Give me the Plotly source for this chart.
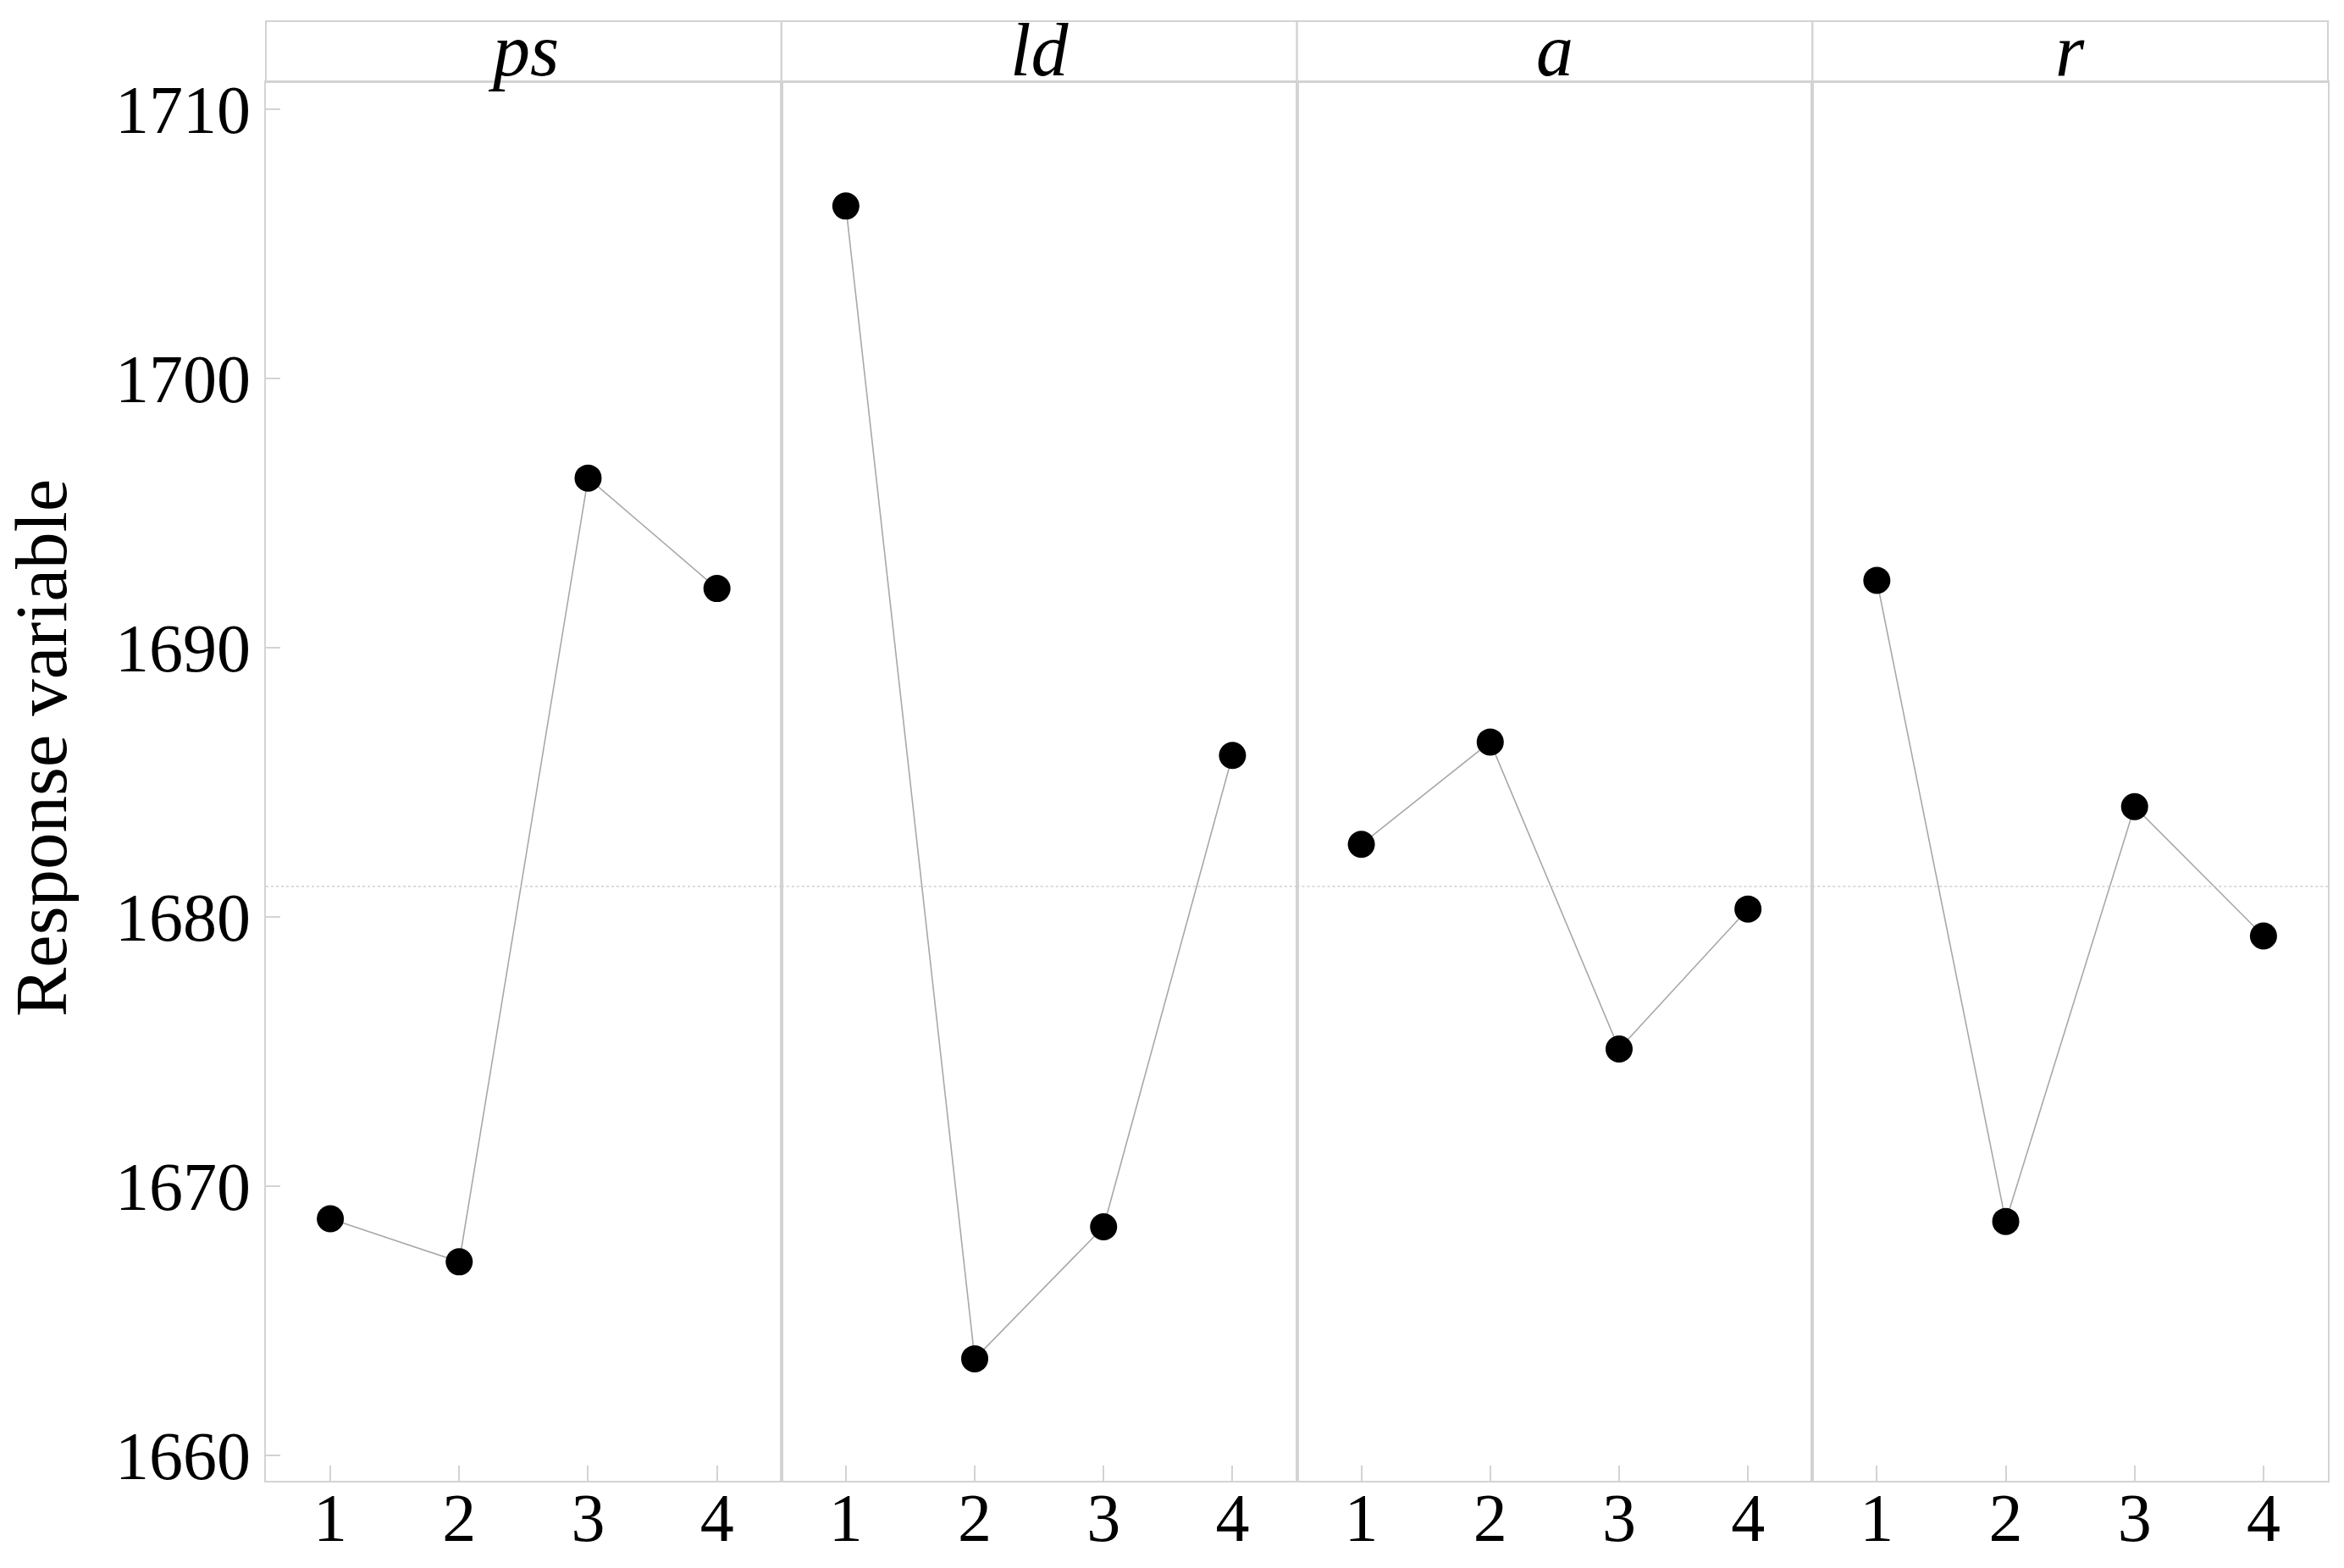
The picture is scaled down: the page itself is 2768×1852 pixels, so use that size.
import plotly.graph_objects as go
from plotly.subplots import make_subplots

factors = ["ps", "ld", "a", "r"]
levels = [1, 2, 3, 4]
ps_vals = [1668.8, 1667.2, 1696.3, 1692.2]
ld_vals = [1706.4, 1663.6, 1668.5, 1686.0]
a_vals = [1682.7, 1686.5, 1675.1, 1680.3]
r_vals = [1692.5, 1668.7, 1684.1, 1679.3]
series = [ps_vals, ld_vals, a_vals, r_vals]
y_ticks = [1660, 1670, 1680, 1690, 1700, 1710]

all_vals = [v for s in series for v in s]
grand_mean = sum(all_vals) / len(all_vals)

W, H = 2768, 1852
ML, MR, MT, MB = 314, 19, 25, 103
plot_h = H - MT - MB
strip_h = 72
ytop = (plot_h - strip_h) / plot_h

FONT = "Liberation Serif"
FS = 80
frame = "#d3d3d3"

fig = make_subplots(rows=1, cols=4, shared_yaxes=True, horizontal_spacing=0)

for i, vals in enumerate(series):
    fig.add_trace(
        go.Scatter(
            x=levels, y=vals, mode="lines+markers",
            line=dict(color="#a8a8a8", width=1.6),
            marker=dict(color="black", size=32),
            showlegend=False,
        ),
        row=1, col=i + 1,
    )
    fig.update_xaxes(
        range=[0.5, 4.5], tickvals=levels, ticktext=[str(v) for v in levels],
        ticks="inside", ticklen=18, tickcolor=frame, tickwidth=2,
        showline=True, mirror=True, linecolor=frame, linewidth=2,
        showgrid=False, zeroline=False, automargin=False,
        tickfont=dict(family=FONT, size=FS, color="black"),
        ticklabelstandoff=-27,
        domain=[i / 4, (i + 1) / 4],
        row=1, col=i + 1,
    )
    fig.update_yaxes(
        range=[1659.07, 1711.0], domain=[0, ytop],
        showline=True, mirror=True, linecolor=frame, linewidth=2,
        showgrid=False, zeroline=False, automargin=False,
        row=1, col=i + 1,
    )
    fig.add_shape(type="rect", xref="paper", yref="paper",
                  x0=i / 4, x1=(i + 1) / 4, y0=ytop, y1=1,
                  line=dict(color=frame, width=2), fillcolor="rgba(0,0,0,0)")
    fig.add_annotation(text="<i>" + factors[i] + "</i>", xref="paper", yref="paper",
                       x=(i + 0.5) / 4, y=(ytop + 1) / 2 + 0.001, showarrow=False,
                       xanchor="center", yanchor="middle",
                       font=dict(family=FONT, size=88, color="black"))
    fig.add_hline(y=grand_mean, line=dict(color="#cfcfcf", width=1.5, dash="dot"),
                  row=1, col=i + 1)

fig.update_yaxes(
    tickvals=y_ticks, ticks="inside", ticklen=17, tickcolor=frame, tickwidth=2,
    tickfont=dict(family=FONT, size=FS, color="black"), ticklabelstandoff=0,
    row=1, col=1,
)
for c in range(2, 5):
    fig.update_yaxes(ticks="", showticklabels=False, row=1, col=c)

fig.add_annotation(text="Response variable", xref="paper", yref="paper",
                   x=(48 - ML) / (W - ML - MR), y=(H - MB - 884) / plot_h, textangle=-90,
                   showarrow=False, xanchor="center", yanchor="middle",
                   height=90, valign="middle",
                   font=dict(family=FONT, size=87, color="black"))

fig.update_layout(
    width=W, height=H,
    margin=dict(l=ML, r=MR, t=MT, b=MB, autoexpand=False),
    paper_bgcolor="white", plot_bgcolor="white",
    showlegend=False,
)

fig.write_html("out.html", config={"displayModeBar": False},
               post_script="document.body.style.margin='0';document.body.style.overflow='hidden';")
